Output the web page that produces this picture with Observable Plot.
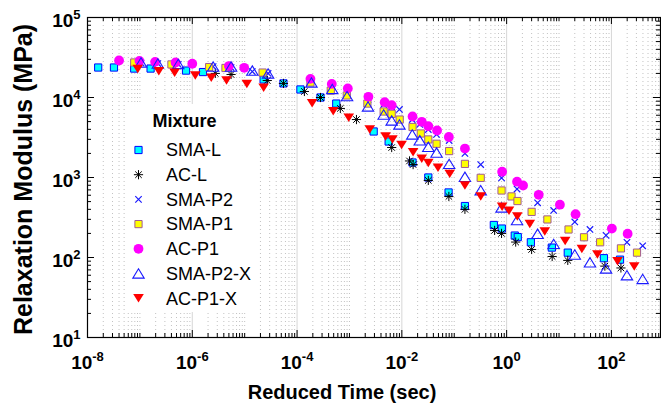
<!DOCTYPE html>
<html><head><meta charset="utf-8">
<script src="https://cdn.jsdelivr.net/npm/d3@7"></script>
<script src="https://cdn.jsdelivr.net/npm/@observablehq/plot@0.6"></script>
<style>
body{margin:0;background:#fff;}
#wrap{position:relative;width:661px;height:409px;font-family:"Liberation Sans",Arial,sans-serif;}
#legend{position:absolute;left:126px;top:104px;width:132px;height:208px;background:#fff;}
</style></head><body><div id="wrap"></div>
<script>
// ---- data ----
const mixtures = ["SMA-L","AC-L","SMA-P2","SMA-P1","AC-P1","SMA-P2-X","AC-P1-X"];

const smaL_t = [1.6e-8,3.2e-8,7.8e-8,1.6e-7,7.6e-7,1.6e-6,2.3e-5,5.5e-5,1.16e-4,2.8e-4,5.6e-4,2.9e-3,5.6e-3,0.016,0.032,0.078,0.16,0.57,0.81,1.43,1.63,2.9,7.3,14.7,72,146];
const smaL_E = [23700,23700,23000,23000,21700,20800,16800,15000,12600,10000,8400,3760,2820,1540,1000,650,440,255,230,188,180,155,133,115,98,94];

const acL_t = [2.75e-6,5.5e-6,2.7e-5,5.5e-5,1.38e-4,2.8e-4,6.7e-4,1.36e-3,6.4e-3,0.014,0.0164,0.032,0.079,0.16,0.59,0.80,1.49,3.0,7.4,14.7,75,152];
const acL_E = [20000,19400,16300,15000,11900,10000,7300,5300,2370,1610,1450,920,580,400,218,200,156,126,103,92,78,74];

const smaP2_t = [1.05e-7,2.2e-7,5.4e-7,2.5e-6,5.5e-6,1.4e-5,2.8e-5,1.88e-4,4.7e-4,9.0e-4,2.26e-3,4.5e-3,6.4e-3,9.0e-3,0.0158,0.022,0.032,0.046,0.080,0.16,0.32,0.80,1.58,3.9,7.9,20,39,79,198,395];
const smaP2_E = [27000,26600,25900,24400,23700,21100,20000,16300,13700,11900,9440,8170,7600,7080,5300,4600,3980,3450,2900,2000,1450,986,718,483,387,278,224,189,155,140];

const smaP1_t = [7.8e-8,4.0e-7,2.1e-6,4.3e-6,2.2e-5,1.8e-4,4.4e-4,8.9e-4,2.2e-3,4.5e-3,6.4e-3,9.1e-3,0.016,0.023,0.032,0.046,0.080,0.16,0.32,0.80,1.24,1.61,3.0,6.0,15.2,30,61,152,308];
const smaP1_E = [27400,25900,24000,23400,20500,15400,12200,10600,8400,6680,6250,5300,4280,3550,2990,2640,2140,1480,990,688,580,508,372,299,224,179,155,130,115];

const acP1_t = [4.0e-8,9.8e-8,1.95e-7,4.8e-7,1.0e-6,5.0e-6,9.8e-6,1.8e-4,4.6e-4,9.3e-4,2.3e-3,4.7e-3,6.4e-3,0.016,0.024,0.032,0.047,0.079,0.16,0.82,1.58,2.06,4.1,10.4,20.7,102,204];
const acP1_E = [29000,28700,27900,27400,26400,24700,23500,17100,14800,13000,10200,8730,8010,5790,4970,4380,3870,3210,2300,1180,886,794,608,457,348,230,198];

const smaP2X_t = [1.05e-7,2.2e-7,5.4e-7,2.5e-6,5.5e-6,1.4e-5,2.8e-5,1.88e-4,4.7e-4,9.0e-4,2.26e-3,4.5e-3,6.4e-3,9.0e-3,0.0158,0.022,0.032,0.046,0.080,0.16,0.32,0.80,1.58,3.9,7.9,20,39,79,198,395];
const smaP2X_E = [27400,26600,26300,24400,24400,21700,20000,15400,12800,10400,7720,6130,5160,4600,3450,2920,2420,2050,1480,1020,694,422,293,198,148,109,87,73,60,54];

const acP1X_t = [9.1e-8,2.3e-7,4.6e-7,1.14e-6,2.3e-6,4.5e-6,1.1e-5,2.3e-5,1.94e-4,4.9e-4,9.7e-4,2.44e-3,4.9e-3,6.6e-3,9.9e-3,0.0164,0.024,0.032,0.049,0.082,0.16,0.32,0.82,1.11,1.60,2.77,5.35,13.1,27.3,54,131,273];
const acP1X_E = [22700,21300,20400,18800,17600,16300,14700,13200,8490,6740,5570,3980,3250,2990,2550,2070,1710,1520,1320,1110,794,580,430,384,325,262,211,161,128,109,90,77];

const xTickValues = [1e-8,1e-6,1e-4,1e-2,1,1e2];
const xTickLabels = ["10^-8","10^-6","10^-4","10^-2","10^0","10^2"];
const yTickValues = [1e1,1e2,1e3,1e4,1e5];
const yTickLabels = ["10^1","10^2","10^3","10^4","10^5"];
const xTitle = "Reduced Time (sec)";
const yTitle = "Relaxation Modulus (MPa)";
const legendTitle = "Mixture";

// ---- symbols (MATLAB-like markers) ----
const R = s => Math.sqrt(s/Math.PI);
const symSquare = {draw(c,s){const r=R(s);c.rect(-r,-r,2*r,2*r);}};
const symCircle = {draw(c,s){const r=R(s);c.moveTo(r,0);c.arc(0,0,r,0,2*Math.PI);}};
const symAst = {draw(c,s){const r=R(s),q=r*0.7071;c.moveTo(-r,0);c.lineTo(r,0);c.moveTo(0,-r);c.lineTo(0,r);c.moveTo(-q,-q);c.lineTo(q,q);c.moveTo(-q,q);c.lineTo(q,-q);}};
const symX = {draw(c,s){const r=R(s);c.moveTo(-r,-r);c.lineTo(r,r);c.moveTo(-r,r);c.lineTo(r,-r);}};
const symUp = {draw(c,s){const r=R(s);c.moveTo(0,-0.82*r);c.lineTo(r,0.82*r);c.lineTo(-r,0.82*r);c.closePath();}};
const symDown = {draw(c,s){const r=R(s);c.moveTo(-r,-0.8*r);c.lineTo(r,-0.8*r);c.lineTo(0,0.8*r);c.closePath();}};

const series = [
  {name:mixtures[0], t:smaL_t, E:smaL_E, symbol:symSquare, r:3.6, fill:"#00ffff", stroke:"#0000ff", sw:1},
  {name:mixtures[1], t:acL_t, E:acL_E, symbol:symAst, r:4.6, fill:"none", stroke:"#000000", sw:1},
  {name:mixtures[2], t:smaP2_t, E:smaP2_E, symbol:symX, r:3.2, fill:"none", stroke:"#1a1aff", sw:1.2},
  {name:mixtures[3], t:smaP1_t, E:smaP1_E, symbol:symSquare, r:3.6, fill:"#ffff00", stroke:"#a05a96", sw:1},
  {name:mixtures[4], t:acP1_t, E:acP1_E, symbol:symCircle, r:4.9, fill:"#ff00ff", stroke:"none", sw:0},
  {name:mixtures[5], t:smaP2X_t, E:smaP2X_E, symbol:symUp, r:5.7, fill:"none", stroke:"#1a1aff", sw:1.1},
  {name:mixtures[6], t:acP1X_t, E:acP1X_E, symbol:symDown, r:5.3, fill:"#ff0000", stroke:"none", sw:0}
];

// tick positions (layout)
const xMinor = [];
for (let d=-8; d<=2; d++) {
  if (d % 2 !== 0) xMinor.push(10**d);
  for (let k=2;k<=9;k++) xMinor.push(k*10**d);
}
const yMinor = [];
for (let d=1; d<=4; d++) for (let k=2;k<=9;k++) yMinor.push(k*10**d);

const H = 320, W = 573;
const font = "Liberation Sans, Arial, sans-serif";
const xm = xMinor.filter(v=>v<865);

const marks = [
  Plot.ruleX(xm, {x:d=>d, stroke:"#c2c2c2", strokeDasharray:"1,3", strokeWidth:1}),
  Plot.ruleX(xTickValues, {x:d=>d, stroke:"#d6d6d6", strokeWidth:1})
];
for (const s of series) {
  const rows = s.t.map((t,i)=>({t, E:s.E[i], mixture:s.name}));
  marks.push(Plot.dot(rows, {x:"t", y:"E", r:s.r, symbol:s.symbol, fill:s.fill, stroke:s.stroke, strokeWidth:s.sw}));
}
marks.push(
  Plot.tickX(xm, {x:d=>d, insetTop:H-4, stroke:"#000"}),
  Plot.tickX(xm, {x:d=>d, insetBottom:H-4, stroke:"#000"}),
  Plot.tickX(xTickValues, {x:d=>d, insetTop:H-7, stroke:"#000"}),
  Plot.tickX(xTickValues, {x:d=>d, insetBottom:H-7, stroke:"#000"}),
  Plot.tickY(yMinor, {y:d=>d, insetRight:W-4, stroke:"#000"}),
  Plot.tickY(yMinor, {y:d=>d, insetLeft:W-4, stroke:"#000"}),
  Plot.tickY(yTickValues, {y:d=>d, insetRight:W-7, stroke:"#000"}),
  Plot.tickY(yTickValues, {y:d=>d, insetLeft:W-7, stroke:"#000"}),
  Plot.frame({stroke:"#000", strokeWidth:1.2}),
  Plot.axisX({ticks:xTickValues, tickFormat:d=>xTickLabels[xTickValues.indexOf(d)], tickSize:0, tickPadding:18, fontSize:19, fontWeight:"bold", label:null, fill:"#000"}),
  Plot.axisY({ticks:yTickValues, tickFormat:d=>yTickLabels[yTickValues.indexOf(d)], tickSize:0, tickPadding:7, dy:3, fontSize:19, fontWeight:"bold", label:null, fill:"#000"}),
  Plot.text([xTitle], {text:d=>d, frameAnchor:"bottom", textAnchor:"middle", dx:-32, dy:61, fontSize:20, fontWeight:"bold", fill:"#000"}),
  Plot.text([yTitle], {text:d=>d, frameAnchor:"left", textAnchor:"middle", dx:-64, dy:2, rotate:-90, fontSize:25, fontWeight:"bold", fill:"#000"})
);

const plot = Plot.plot({
  width:661, height:409,
  marginLeft:87, marginRight:1, marginTop:17, marginBottom:72,
  x:{type:"log", domain:[1e-8, 865]},
  y:{type:"log", domain:[10, 1e5]},
  style:{fontFamily:font, background:"white", overflow:"visible", color:"#000"},
  marks
});
document.getElementById("wrap").appendChild(plot);

// superscript exponents in tick labels
d3.select(plot).selectAll('g[aria-label="x-axis tick label"] text, g[aria-label="y-axis tick label"] text').each(function(){
  const el = d3.select(this);
  const txt = el.text();
  const m = txt.match(/^10\^(.*)$/);
  if (!m) return;
  el.text(null);
  el.append("tspan").text("10");
  el.append("tspan").attr("font-size", 13).attr("dy", -8).text(m[1]);
});

// legend (inside the axes, white box)
const lg = d3.select("#wrap").append("div").attr("id","legend");
const lsvg = lg.append("svg").attr("width",132).attr("height",208).style("font-family",font);
lsvg.append("text").attr("x",26.5).attr("y",23).attr("font-size",18).attr("font-weight","bold").text(legendTitle);
series.forEach((s,i)=>{
  const y = 46 + i*24.7;
  lsvg.append("path").attr("transform",`translate(12.5,${y})`)
    .attr("d", d3.symbol(s.symbol, s.r*s.r*Math.PI)())
    .attr("fill", s.fill).attr("stroke", s.stroke).attr("stroke-width", s.sw);
  lsvg.append("text").attr("x",40).attr("y",y).attr("dy","0.35em").attr("font-size",18).text(s.name);
});
</script></body></html>
